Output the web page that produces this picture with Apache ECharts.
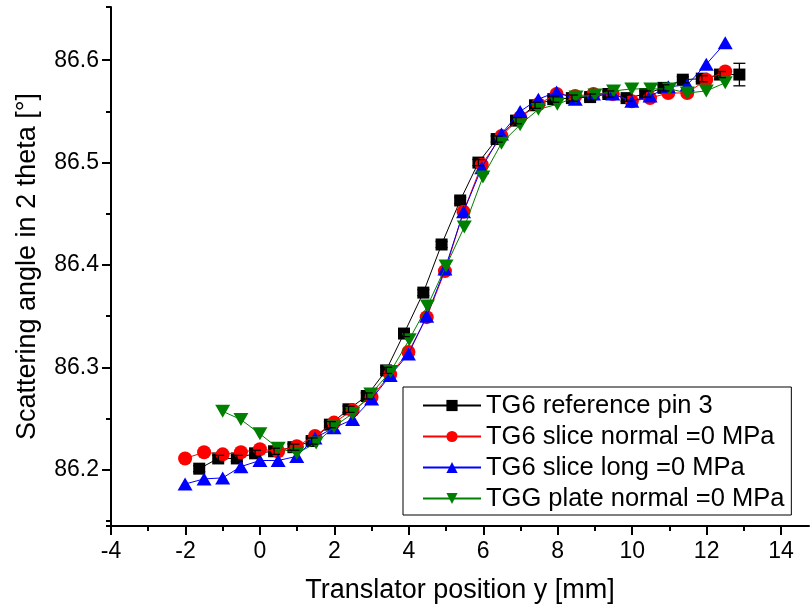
<!DOCTYPE html>
<html>
<head>
<meta charset="utf-8">
<script src="https://cdn.jsdelivr.net/npm/echarts@6/dist/echarts.min.js"></script>
<style>html,body{margin:0;padding:0;background:#fff;}#c{width:811px;height:610px;}</style>
</head>
<body>
<div id="c"></div>
<script>
// ---- data ----
const refX = [-1.63,-1.12,-0.62,-0.13,0.38,0.90,1.39,1.88,2.38,2.87,3.39,3.87,4.39,4.88,5.38,5.87,6.36,6.88,7.39,7.88,8.38,8.87,9.36,9.85,10.35,10.84,11.36,11.87,12.36,12.88];
const refY = [86.201,86.211,86.211,86.216,86.218,86.222,86.228,86.244,86.259,86.272,86.297,86.333,86.373,86.420,86.463,86.500,86.523,86.541,86.556,86.562,86.563,86.564,86.567,86.563,86.567,86.573,86.581,86.582,86.586,86.586];
const refErr = [0.003,0.003,0.003,0.003,0.003,0.003,0.003,0.003,0.003,0.003,0.003,0.003,0.003,0.003,0.003,0.003,0.003,0.003,0.003,0.003,0.003,0.003,0.003,0.003,0.003,0.003,0.003,0.003,0.003,0.011];

const sliceX = [-2.01,-1.5,-1.0,-0.51,0.0,0.49,0.99,1.48,1.99,2.49,3.0,3.5,3.99,4.48,4.97,5.47,5.96,6.49,6.99,7.48,7.97,8.47,8.96,9.48,9.99,10.48,10.97,11.48,11.99,12.50];
const normalY = [86.211,86.217,86.215,86.217,86.220,86.218,86.223,86.233,86.246,86.258,86.271,86.293,86.315,86.349,86.394,86.452,86.498,86.526,86.544,86.557,86.567,86.565,86.567,86.567,86.560,86.563,86.568,86.568,86.581,86.589];
const longY = [86.186,86.191,86.192,86.203,86.209,86.209,86.213,86.231,86.241,86.249,86.269,86.292,86.313,86.350,86.396,86.452,86.495,86.528,86.550,86.562,86.569,86.562,86.567,86.567,86.560,86.565,86.574,86.576,86.596,86.617];

const plateX = [-1.0,-0.51,0.0,0.49,0.99,1.51,1.99,2.49,2.98,3.51,4.01,4.50,5.0,5.49,5.99,6.49,6.99,7.48,7.99,8.49,9.0,9.50,9.99,10.50,11.0,11.48,11.99,12.50];
const plateY = [86.257,86.249,86.235,86.221,86.216,86.226,86.242,86.255,86.274,86.296,86.327,86.360,86.399,86.437,86.486,86.519,86.537,86.552,86.557,86.564,86.566,86.570,86.572,86.572,86.572,86.568,86.570,86.578];

const seriesNames = ['TG6 reference pin 3','TG6 slice normal =0 MPa','TG6 slice long =0 MPa','TGG plate normal =0 MPa'];
const xMajorTicks = [-4,-2,0,2,4,6,8,10,12,14];
const xMinorTicks = [-3,-1,1,3,5,7,9,11,13];
const yMajorTicks = [86.2,86.3,86.4,86.5,86.6];
const yMinorTicks = [86.145,86.15,86.25,86.35,86.45,86.55,86.652];

// ---- chart ----
const X_MIN = -4, X_MAX = 14.75, Y_MIN = 86.145, Y_MAX = 86.652;
const FONT = 'Liberation Sans, Arial, sans-serif';
const zip = (xs, ys) => xs.map((x, i) => [x, ys[i]]);

const chart = echarts.init(document.getElementById('c'), null, {renderer: 'canvas'});

const axisLineOn = {show: true, onZero: false, lineStyle: {color: '#000', width: 2}};
const axisLineOff = {show: false, onZero: false};

const option = {
  animation: false,
  backgroundColor: '#fff',
  grid: {left: 111, right: 2, top: 7, bottom: 84, containLabel: false},
  xAxis: [
    {
      type: 'value', min: X_MIN, max: X_MAX, position: 'bottom', splitLine: {show: false},
      axisLine: axisLineOn,
      name: 'Translator position y [mm]', nameLocation: 'middle', nameGap: 51,
      nameTextStyle: {fontFamily: FONT, fontSize: 27, color: '#000'},
      axisTick: {show: true, inside: false, length: 9, customValues: xMajorTicks, lineStyle: {color: '#000', width: 2}},
      axisLabel: {show: true, customValues: xMajorTicks, margin: 14, fontFamily: FONT, fontSize: 23, color: '#000'}
    },
    {
      type: 'value', min: X_MIN, max: X_MAX, position: 'bottom', splitLine: {show: false},
      axisLine: axisLineOff,
      axisTick: {show: true, inside: false, length: 5, customValues: xMinorTicks, lineStyle: {color: '#000', width: 2}},
      axisLabel: {show: false}
    }
  ],
  yAxis: [
    {
      type: 'value', min: Y_MIN, max: Y_MAX, position: 'left', splitLine: {show: false},
      axisLine: axisLineOn,
      name: 'Scattering angle in 2 theta [°]', nameLocation: 'middle', nameGap: 70,
      nameTextStyle: {fontFamily: FONT, fontSize: 27, color: '#000'},
      axisTick: {show: true, inside: false, length: 9, customValues: yMajorTicks, lineStyle: {color: '#000', width: 2}},
      axisLabel: {show: true, customValues: yMajorTicks, margin: 12, fontFamily: FONT, fontSize: 23, color: '#000',
        formatter: v => v.toFixed(1)}
    },
    {
      type: 'value', min: Y_MIN, max: Y_MAX, position: 'left', splitLine: {show: false},
      axisLine: axisLineOff,
      axisTick: {show: true, inside: false, length: 5, customValues: yMinorTicks, lineStyle: {color: '#000', width: 2}},
      axisLabel: {show: false}
    }
  ],
  legend: {
    orient: 'vertical', left: 403, top: 387,
    data: seriesNames,
    itemWidth: 58, itemHeight: 14, itemGap: 0,
    padding: [3, 7, 1, 19],
    backgroundColor: '#fff', borderColor: '#000', borderWidth: 1, borderRadius: 0,
    textStyle: {fontFamily: FONT, fontSize: 25.5, color: '#000', lineHeight: 31}
  },
  series: [
    {name: seriesNames[0], type: 'line', data: zip(refX, refY), symbol: 'rect', symbolSize: 12,
      itemStyle: {color: '#000'}, lineStyle: {color: '#000', width: 1}, z: 2},
    {name: seriesNames[1], type: 'line', data: zip(sliceX, normalY), symbol: 'circle', symbolSize: 14,
      itemStyle: {color: '#ff0000'}, lineStyle: {color: '#ff0000', width: 1}, z: 3},
    {name: seriesNames[2], type: 'line', data: zip(sliceX, longY), symbol: 'triangle', symbolSize: [15, 13],
      itemStyle: {color: '#0000ff'}, lineStyle: {color: '#0000ff', width: 1}, z: 4},
    {name: seriesNames[3], type: 'line', data: zip(plateX, plateY), symbol: 'triangle', symbolRotate: 180, symbolSize: [15, 13],
      itemStyle: {color: '#008000'}, lineStyle: {color: '#008000', width: 1}, z: 5},
    {name: 'err', type: 'custom', z: 6, silent: true,
      data: refX.map((x, i) => [x, refY[i], refErr[i]]),
      encode: {x: 0, y: 1},
      renderItem: function (params, api) {
        const x = api.value(0), y = api.value(1), e = api.value(2);
        const top = api.coord([x, y + e]);
        const bot = api.coord([x, y - e]);
        const w = 6;
        const st = {stroke: '#000', lineWidth: 1.3};
        return {type: 'group', children: [
          {type: 'line', shape: {x1: top[0], y1: top[1], x2: bot[0], y2: bot[1]}, style: st},
          {type: 'line', shape: {x1: top[0] - w, y1: top[1], x2: top[0] + w, y2: top[1]}, style: st},
          {type: 'line', shape: {x1: bot[0] - w, y1: bot[1], x2: bot[0] + w, y2: bot[1]}, style: st}
        ]};
      }
    }
  ]
};
chart.setOption(option);
</script>
</body>
</html>
